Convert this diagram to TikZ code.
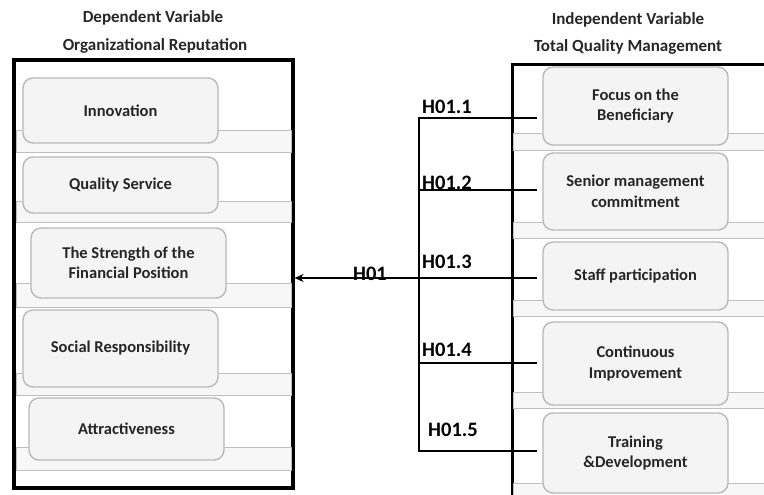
\documentclass[tikz,border=0pt]{standalone}
\usepackage{fontspec}
\setmainfont{Carlito}
\usetikzlibrary{arrows.meta}
\begin{document}
\begin{tikzpicture}[x=1pt,y=-1pt,
 frame/.style={draw=black,line width=3.2pt,fill=white,inner sep=0pt},
 band/.style={draw=gray!50,fill=gray!6,line width=0.9pt},
 item/.style={draw=gray!55,fill=gray!9,rounded corners=10pt,line width=1.4pt,align=center,font=\bfseries\fontsize{16.5}{20.5}\selectfont,text=black!85,inner sep=0pt},
 title/.style={font=\bfseries\fontsize{17}{20}\selectfont,text=black!85,inner sep=0pt},
 hlab/.style={font=\bfseries\fontsize{20.5}{23}\selectfont,text=black,inner sep=0pt},
 conn/.style={line width=2.9pt,draw=black}
]
\useasboundingbox (0,0) rectangle (764,495);
\clip (0,0) rectangle (764,495);

% titles
\node[title] (t1) at (153,18) {Dependent Variable};
\node[title] (t2) at (155,46) {Organizational Reputation};
\node[title] (t3) at (628,20) {Independent Variable};
\node[title] (t4) at (628,47) {Total Quality Management};

% frames
\node[frame,minimum width=279pt,minimum height=428pt] (dep) at (153.5,274) {};
\node[frame,minimum width=270pt,minimum height=450pt,anchor=north west] (ind) at (511,63) {};

% bands left
\draw[band] (16,130) rectangle (291,152);
\draw[band] (16,201) rectangle (291,222);
\draw[band] (16,283) rectangle (291,307);
\draw[band] (16,373) rectangle (291,395);
\draw[band] (16,447) rectangle (291,470);
% bands right
\draw[band] (513,133) rectangle (770,150);
\draw[band] (513,222) rectangle (770,238);
\draw[band] (513,300) rectangle (770,316);
\draw[band] (513,392) rectangle (770,408);
\draw[band] (513,483) rectangle (770,500);

% left items
\node[item,minimum width=195pt,minimum height=65pt] (innov) at (120.5,110.5) {Innovation};
\node[item,minimum width=195pt,minimum height=56pt] (qual) at (120.5,185) {Quality Service};
\node[item,minimum width=195pt,minimum height=70pt] (fin) at (128.5,263) {The Strength of the\\Financial Position};
\node[item,minimum width=195pt,minimum height=77pt] (soc) at (120.5,348.5) {Social Responsibility};
\node[item,minimum width=195pt,minimum height=62pt] (attr) at (126.5,429) {Attractiveness};

% right items
\node[item,minimum width=185pt,minimum height=78pt] (focus) at (635.5,106) {Focus on the\\Beneficiary};
\node[item,minimum width=185pt,minimum height=77pt] (senior) at (635.5,191.5) {Senior management\\commitment};
\node[item,minimum width=185pt,minimum height=68pt] (staff) at (635.5,276) {Staff participation};
\node[item,minimum width=185pt,minimum height=83pt] (cont) at (635.5,363.5) {Continuous\\Improvement};
\node[item,minimum width=185pt,minimum height=80pt] (train) at (635.5,453) {Training\\\&Development};

% connectors
\coordinate (j1) at (419,118);
\coordinate (j2) at (419,190);
\coordinate (j3) at (419,278);
\coordinate (j4) at (419,363);
\coordinate (j5) at (419,451);
\draw[conn,line cap=rect] (j1) -- (j5);
\draw[conn,shorten >=5pt] (j1) -- (j1 -| focus.west);
\draw[conn,shorten >=5pt] (j2) -- (j2 -| senior.west);
\draw[conn,shorten >=5pt] (j3) -- (j3 -| staff.west);
\draw[conn,shorten >=5pt] (j4) -- (j4 -| cont.west);
\draw[conn,shorten >=5pt] (j5) -- (j5 -| train.west);
\draw[conn,-{Stealth[length=9pt,width=8pt]}] (j3) -- (j3 -| dep.east);

% labels
\node[hlab] (h1) at (447,107) {H01.1};
\node[hlab] (h2) at (447,182.5) {H01.2};
\node[hlab] (h3) at (447,262) {H01.3};
\node[hlab] (h4) at (447,350) {H01.4};
\node[hlab] (h5) at (453,430) {H01.5};
\node[hlab] (h0) at (370,273.5) {H01};
\end{tikzpicture}
\end{document}
